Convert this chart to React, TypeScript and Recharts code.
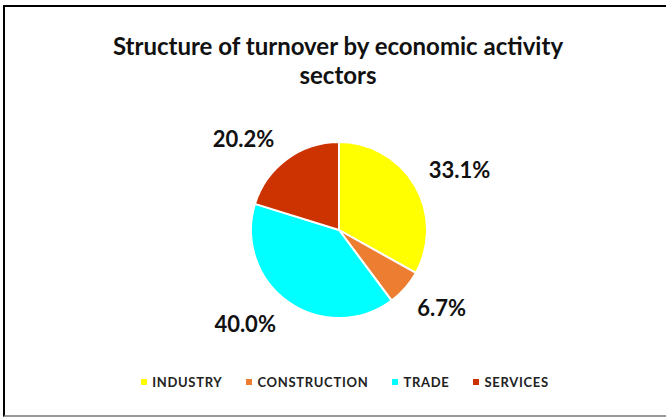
import React from "react";
import { PieChart, Pie, Cell } from "recharts";

const categories = ["INDUSTRY", "CONSTRUCTION", "TRADE", "SERVICES"];
const shares = [33.1, 6.7, 40.0, 20.2];
const colors = ["#FFFF00", "#ED7D31", "#00FFFF", "#CC3300"];
const titleLines = ["Structure of turnover by economic activity", "sectors"];

const data = categories.map((name, i) => ({ name, value: shares[i] }));

const FONT = "Lato, 'Open Sans', sans-serif";
const RAD = Math.PI / 180;

const renderLabel = (props: any) => {
  const { cx, cy, midAngle, outerRadius, value } = props;
  const r = outerRadius + 16;
  const c = Math.cos(-midAngle * RAD);
  const s = Math.sin(-midAngle * RAD);
  const px = cx + r * c;
  const py = cy + r * s;
  const anchor = c >= 0 ? "start" : "end";
  const y = py + (s < 0 ? -8 : 9);
  return (
    <text
      x={px + (c >= 0 ? 0 : -3)}
      y={y}
      textAnchor={anchor}
      dominantBaseline="central"
      fontFamily={FONT}
      fontWeight={700}
      fontSize={22}
      fill="#111"
    >
      {value.toFixed(1)}%
    </text>
  );
};

export default function App() {
  return (
    <div style={{ position: "fixed", left: 0, top: 0, width: 666, height: 417, background: "#fff", overflow: "hidden" }}>
      <div
        style={{
          position: "absolute",
          left: 3,
          top: 5,
          width: 700,
          height: 412,
          borderTop: "2px solid #000",
          borderLeft: "2px solid #000",
          borderBottom: "2px solid #999",
          boxSizing: "border-box",
        }}
      />
      <div
        style={{
          position: "absolute",
          left: 0,
          top: 31,
          width: 676,
          textAlign: "center",
          fontFamily: FONT,
          fontWeight: 700,
          fontSize: 24,
          lineHeight: "29px",
          color: "#111",
        }}
      >
        {titleLines.map((l) => (
          <div key={l}>{l}</div>
        ))}
      </div>
      <div style={{ position: "absolute", left: 0, top: 0 }}>
        <PieChart width={676} height={417} margin={{ top: 0, right: 0, bottom: 0, left: 0 }}>
          <Pie
            data={data}
            dataKey="value"
            nameKey="name"
            cx={339}
            cy={230}
            outerRadius={88}
            startAngle={90}
            endAngle={-270}
            stroke="#fff"
            strokeWidth={2}
            label={renderLabel}
            labelLine={false}
            isAnimationActive={false}
          >
            {data.map((d, i) => (
              <Cell key={d.name} fill={colors[i]} />
            ))}
          </Pie>
        </PieChart>
      </div>
      <div
        style={{
          position: "absolute",
          left: 2,
          top: 374,
          width: 686,
          display: "flex",
          justifyContent: "center",
          alignItems: "center",
          gap: 24,
        }}
      >
        {categories.map((c, i) => (
          <div key={c} style={{ display: "flex", alignItems: "center" }}>
            <span style={{ width: 6, height: 6, background: colors[i], display: "inline-block", marginRight: 5 }} />
            <span style={{ fontFamily: FONT, fontWeight: 700, fontSize: 13, letterSpacing: 0.7, color: "#222", lineHeight: "16px" }}>
              {c}
            </span>
          </div>
        ))}
      </div>
    </div>
  );
}
